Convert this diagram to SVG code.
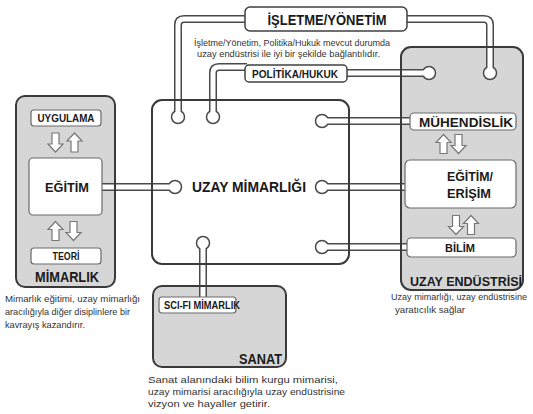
<svg xmlns="http://www.w3.org/2000/svg" xmlns:xlink="http://www.w3.org/1999/xlink" width="533" height="414" viewBox="0 0 533 414">
<defs>
<style>
.fill{fill:#d6d6d6;stroke:none}
.wfill{fill:#ffffff;stroke:none}
.edge{fill:none;stroke:#3a3a3a;stroke-width:2}
.ibox{fill:#ffffff;stroke:#6a6a6a;stroke-width:1.2}
.tbox{fill:#ffffff;stroke:#404040;stroke-width:1.5}
.po{fill:none;stroke:#4a4a4a;stroke-width:8;stroke-linejoin:round}
.pi{fill:none;stroke:#ffffff;stroke-width:5;stroke-linejoin:round}
.dot{fill:#ffffff;stroke:#4a4a4a;stroke-width:1.5}
.lbl{font-family:"Liberation Sans",Arial,sans-serif;font-weight:bold;fill:#1a1a1a}
.cap{font-family:"Liberation Sans",Arial,sans-serif;font-size:9.8px;fill:#333333}
.arr{fill:#ffffff;stroke:#777777;stroke-width:1.2;stroke-linejoin:miter}
</style>
<path id="up" d="M0,-9.5 L7.5,-1.5 L3.5,-1.5 L3.5,9.5 L-3.5,9.5 L-3.5,-1.5 L-7.5,-1.5 Z"/>
</defs>

<g id="fills">
<rect class="fill" x="16" y="96" width="99" height="191" rx="9"/>
<rect class="fill" x="401" y="47" width="122" height="243" rx="10"/>
<rect class="fill" x="153" y="286" width="133" height="81" rx="9"/>
<rect class="wfill" x="152" y="100" width="197" height="164" rx="10"/>
</g>

<g id="connectors">
<g id="pipe-outer">
<path class="po" d="M178,117 V25 Q178,19 184,19 H247"/>
<path class="po" d="M405,19 H484 Q490,19 490,25 V73"/>
<path class="po" d="M213,117 V73 Q213,67 219,67 H247"/>
<path class="po" d="M345,73 H429"/>
<path class="po" d="M101,187 H175"/>
<path class="po" d="M322,121 H411"/>
<path class="po" d="M322,187 H406"/>
<path class="po" d="M322,247 H408"/>
<path class="po" d="M203,243 V298"/>
</g>
<g id="pipe-ends">
<circle class="dot" cx="178" cy="117" r="6.5"/>
<circle class="dot" cx="213" cy="117" r="6.5"/>
<circle class="dot" cx="175" cy="187" r="6.5"/>
<circle class="dot" cx="322" cy="121" r="6.5"/>
<circle class="dot" cx="322" cy="187" r="6.5"/>
<circle class="dot" cx="322" cy="247" r="6.5"/>
<circle class="dot" cx="203" cy="243" r="6.5"/>
<circle class="dot" cx="429" cy="73" r="6.5"/>
<circle class="dot" cx="490" cy="73" r="6.5"/>
</g>
<g id="pipe-inner">
<path class="pi" d="M178,117 V25 Q178,19 184,19 H247"/>
<path class="pi" d="M405,19 H484 Q490,19 490,25 V73"/>
<path class="pi" d="M213,117 V73 Q213,67 219,67 H247"/>
<path class="pi" d="M345,73 H429"/>
<path class="pi" d="M101,187 H175"/>
<path class="pi" d="M322,121 H411"/>
<path class="pi" d="M322,187 H406"/>
<path class="pi" d="M322,247 H408"/>
<path class="pi" d="M203,243 V298"/>
</g>
</g>

<g id="mimarlik">
<rect class="edge" x="16" y="96" width="99" height="191" rx="9"/>
<rect class="ibox" x="31" y="110" width="70" height="16" rx="3"/>
<text class="lbl" x="66" y="122" font-size="10.5" text-anchor="middle" textLength="57" lengthAdjust="spacingAndGlyphs">UYGULAMA</text>
<use xlink:href="#up" class="arr" transform="translate(55.5,142.5) rotate(180)"/>
<use xlink:href="#up" class="arr" transform="translate(74.5,142.5)"/>
<rect class="ibox" x="29" y="158" width="73" height="57" rx="4"/>
<text class="lbl" x="67" y="192" font-size="13.5" text-anchor="middle" textLength="44" lengthAdjust="spacingAndGlyphs">EĞİTİM</text>
<use xlink:href="#up" class="arr" transform="translate(55.5,231)"/>
<use xlink:href="#up" class="arr" transform="translate(73.5,231) rotate(180)"/>
<rect class="ibox" x="31" y="248" width="70" height="16" rx="3"/>
<text class="lbl" x="66" y="260" font-size="10.5" text-anchor="middle" textLength="27" lengthAdjust="spacingAndGlyphs">TEORİ</text>
<text class="lbl" x="67" y="282" font-size="14" text-anchor="middle" textLength="64" lengthAdjust="spacingAndGlyphs">MİMARLIK</text>
<text class="cap" x="5" y="302" textLength="135" lengthAdjust="spacingAndGlyphs">Mimarlık eğitimi, uzay mimarlığı</text>
<text class="cap" x="5" y="315" textLength="125" lengthAdjust="spacingAndGlyphs">aracılığıyla diğer disiplinlere bir</text>
<text class="cap" x="5" y="328" textLength="80" lengthAdjust="spacingAndGlyphs">kavrayış kazandırır.</text>
</g>

<g id="uzay-mimarligi">
<rect class="edge" x="152" y="100" width="197" height="164" rx="10"/>
<text class="lbl" x="249" y="192" font-size="14.5" text-anchor="middle" textLength="114" lengthAdjust="spacingAndGlyphs">UZAY MİMARLIĞI</text>
</g>

<g id="isletme">
<rect class="tbox" x="245" y="7" width="162" height="24" rx="5"/>
<text class="lbl" x="327" y="25" font-size="14" text-anchor="middle" textLength="119" lengthAdjust="spacingAndGlyphs">İŞLETME/YÖNETİM</text>
<text class="cap" x="194" y="46" textLength="196" lengthAdjust="spacingAndGlyphs">İşletme/Yönetim,  Politika/Hukuk mevcut durumda</text>
<text class="cap" x="197" y="57" textLength="183" lengthAdjust="spacingAndGlyphs">uzay endüstrisi ile iyi bir şekilde bağlantılıdır.</text>
</g>

<g id="politika">
<rect class="tbox" x="245" y="65" width="102" height="17" rx="4"/>
<text class="lbl" x="295" y="77.5" font-size="11" text-anchor="middle" textLength="86" lengthAdjust="spacingAndGlyphs">POLİTİKA/HUKUK</text>
</g>

<g id="uzay-endustrisi">
<rect class="edge" x="401" y="47" width="122" height="243" rx="10"/>
<rect class="ibox" x="410" y="113" width="106" height="17" rx="4"/>
<text class="lbl" x="466" y="126.5" font-size="13" text-anchor="middle" textLength="94" lengthAdjust="spacingAndGlyphs">MÜHENDİSLİK</text>
<use xlink:href="#up" class="arr" transform="translate(443.5,144)"/>
<use xlink:href="#up" class="arr" transform="translate(458.5,144) rotate(180)"/>
<rect class="ibox" x="405" y="160" width="111" height="48" rx="5"/>
<text class="lbl" x="447" y="181" font-size="13" textLength="46" lengthAdjust="spacingAndGlyphs">EĞİTİM/</text>
<text class="lbl" x="447" y="198" font-size="13" textLength="44" lengthAdjust="spacingAndGlyphs">ERİŞİM</text>
<use xlink:href="#up" class="arr" transform="translate(456,225) rotate(180)"/>
<use xlink:href="#up" class="arr" transform="translate(471,225)"/>
<rect class="ibox" x="407" y="238" width="109" height="19" rx="4"/>
<text class="lbl" x="460" y="252" font-size="11.5" text-anchor="middle" textLength="30" lengthAdjust="spacingAndGlyphs">BİLİM</text>
<text class="lbl" x="522" y="286" font-size="13" text-anchor="end" textLength="112" lengthAdjust="spacingAndGlyphs">UZAY ENDÜSTRİSİ</text>
<text class="cap" x="391" y="300" font-size="8.5px" style="font-size:8.5px" textLength="136" lengthAdjust="spacingAndGlyphs">Uzay mimarlığı, uzay endüstrisine</text>
<text class="cap" x="395" y="313" textLength="70" lengthAdjust="spacingAndGlyphs">yaratıcılık sağlar</text>
</g>

<g id="sanat">
<rect class="edge" x="153" y="286" width="133" height="81" rx="9"/>
<rect class="ibox" x="159" y="297" width="77" height="16" rx="3"/>
<text class="lbl" x="164" y="309" font-size="10.5" textLength="76" lengthAdjust="spacingAndGlyphs">SCI-FI MİMARLIK</text>
<text class="lbl" x="282" y="364" font-size="14" text-anchor="end" textLength="43" lengthAdjust="spacingAndGlyphs">SANAT</text>
<text class="cap" x="148" y="383" textLength="190" lengthAdjust="spacingAndGlyphs">Sanat alanındaki bilim kurgu mimarisi,</text>
<text class="cap" x="148" y="395" textLength="197" lengthAdjust="spacingAndGlyphs">uzay mimarisi aracılığıyla uzay endüstrisine</text>
<text class="cap" x="148" y="407" textLength="122" lengthAdjust="spacingAndGlyphs">vizyon ve hayaller getirir.</text>
</g>
</svg>
